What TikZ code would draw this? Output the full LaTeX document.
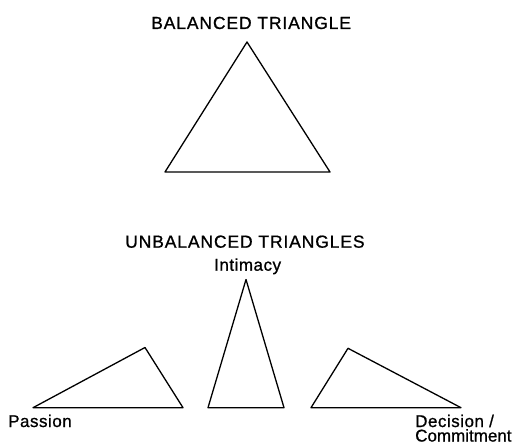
\documentclass[tikz,border=0pt]{standalone}
\usepackage{fontspec}
\setmainfont{Liberation Sans}
\begin{document}
\begin{tikzpicture}[x=1pt,y=-1pt,
  tri/.style={draw=black,line width=1.3pt,line join=round},
  title/.style={inner sep=0pt,anchor=base west,font=\fontsize{17.5}{20}\selectfont\addfontfeatures{LetterSpace=5,FakeBold=0.9}},
  lab/.style={inner sep=0pt,anchor=base west,font=\fontsize{17}{20}\selectfont\addfontfeatures{LetterSpace=3,FakeBold=0.9}}]
\useasboundingbox (0,0) rectangle (521,443);
% balanced
\node[title] (bt) at (151,29) {BALANCED TRIANGLE};
\coordinate (ba) at (247,42);
\coordinate (bl) at (165,172);
\coordinate (br) at (330,172);
\draw[tri] (ba) -- (bl) -- (br) -- cycle;
% unbalanced
\node[title] (ut) at (125,247.7) {UNBALANCED TRIANGLES};
\node[lab] (int) at (214,270.7) {Intimacy};
\node[lab] (pas) at (8,427) {Passion};
\node[lab,anchor=north west,align=left,
  font=\fontsize{17}{14.5}\selectfont\addfontfeatures{FakeBold=0.9}\setlength\lineskiplimit{-20pt}]
  (dec) at (415,414.5) {{\addfontfeatures{LetterSpace=3}Decision /}\\Commitment};
\coordinate (la) at (145,347.5);
\coordinate (ll) at (33,407.7);
\coordinate (lr) at (183,407.7);
\draw[tri] (la) -- (ll) -- (lr) -- cycle;
\coordinate (ma) at (246,279.5);
\coordinate (ml) at (208,407.7);
\coordinate (mr) at (284,407.7);
\draw[tri] (ma) -- (ml) -- (mr) -- cycle;
\coordinate (ra) at (348,348.3);
\coordinate (rl) at (311,407.7);
\coordinate (rr) at (461,407.7);
\draw[tri] (ra) -- (rl) -- (rr) -- cycle;
\end{tikzpicture}
\end{document}
